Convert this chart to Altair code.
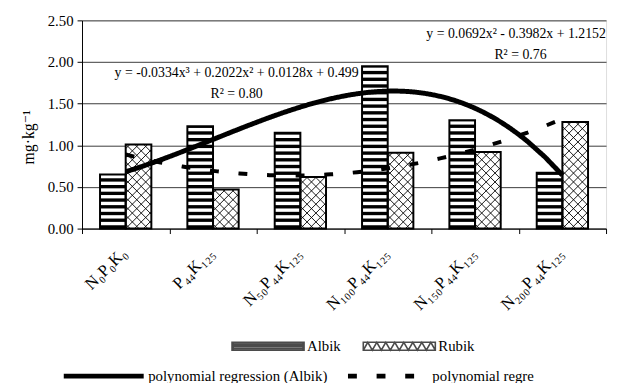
import altair as alt
import pandas as pd

# ---------------- data ----------------
categories = ["N₀P₀K₀", "P₄₄K₁₂₅", "N₅₀P₄₄K₁₂₅", "N₁₀₀P₄₄K₁₂₅", "N₁₅₀P₄₄K₁₂₅", "N₂₀₀P₄₄K₁₂₅"]
varieties = ["Albik", "Rubik"]
albik = [0.65, 1.23, 1.15, 1.95, 1.30, 0.67]
rubik = [1.01, 0.47, 0.62, 0.91, 0.92, 1.28]
y_ticks = [0.0, 0.5, 1.0, 1.5, 2.0, 2.5]
trend_names = ["polynomial regression (Albik)", "polynomial regre"]
eq_text = ["y = -0.0334x³ + 0.2022x² + 0.0128x + 0.499", "R² = 0.80",
           "y = 0.0692x² - 0.3982x + 1.2152", "R² = 0.76"]
eq_x = [2.27, 2.27, 5.47, 5.52]      # category index units
eq_y = [1.864, 1.615, 2.337, 2.088]  # mg·kg⁻¹ units

# ---------------- layout constants ----------------
PLOT_W, PLOT_H = 531, 211
Y_MAX = 2.5
N = len(categories)
BAND_PX = PLOT_W / N
PX_PER_VAL = PLOT_H / Y_MAX
BAR_PX = 26
PAD_OUTER = (BAND_PX / BAR_PX - 2) / 2
FONT = "Liberation Serif, Times New Roman, DejaVu Serif, serif"
STRIPE_STEP = 6.8 / PX_PER_VAL
STRIPE_W = 3.4 / PX_PER_VAL
HATCH = 9

rows = []
for i, c in enumerate(categories):
    rows.append(dict(category=c, variety="Albik", value=albik[i], idx=i + 1))
    rows.append(dict(category=c, variety="Rubik", value=rubik[i], idx=i + 1))
bars = pd.DataFrame(rows)
albik_df = bars[bars.variety == "Albik"]
rubik_df = bars[bars.variety == "Rubik"]
eq_df = pd.DataFrame(dict(t=eq_text, tx=eq_x, ty=eq_y))

xband_scale = alt.Scale(paddingInner=0, paddingOuter=0)
x_axis = alt.Axis(title=None, labelAngle=-45, labelAlign="right", labelBaseline="middle",
                  labelFont=FONT, labelColor="black", domainColor="black", tickColor="black",
                  tickBand="extent", tickSize=5, labelFontSize=17, labelPadding=17,
                  labelOffset=-2, grid=False)
X_AX = alt.X("category:N", sort=categories, scale=xband_scale, axis=x_axis)
X_NO = alt.X("category:N", sort=categories, scale=xband_scale, axis=None)
XOFF = alt.XOffset("variety:N", sort=varieties,
                   scale=alt.Scale(domain=varieties, paddingInner=0, paddingOuter=PAD_OUTER))

y_axis = alt.Axis(values=y_ticks, format=".2f", grid=True, gridColor="#3a3a3a", gridWidth=1,
                  labelFont=FONT, titleFont=FONT, labelColor="black", titleColor="black",
                  domainColor="black", tickColor="black",
                  tickSize=5, labelPadding=4, labelFontSize=15, titleFontSize=16,
                  titleFontWeight="normal", titlePadding=11, titleY=118)
y_scale = alt.Scale(domain=[0, Y_MAX], nice=False)


def Y(f):
    return alt.Y(f"{f}:Q", scale=y_scale, axis=y_axis, title="mg·kg⁻¹")


def QX(f):
    return alt.X(f"{f}:Q", scale=alt.Scale(domain=[0.5, N + 0.5], nice=False, zero=False), axis=None)


bg = alt.Chart(bars).mark_bar(fill="white").encode(x=X_AX, xOffset=XOFF, y=Y("value"))

stripes = (
    alt.Chart(albik_df)
    .transform_calculate(s=f"sequence(0, datum.value, {STRIPE_STEP})")
    .transform_flatten(["s"])
    .transform_calculate(s2=f"min(datum.s + {STRIPE_W}, datum.value)")
    .mark_bar(fill="black")
    .encode(x=X_NO, xOffset=XOFF, y=Y("s"), y2="s2:Q")
)

hatch1 = (
    alt.Chart(rubik_df)
    .transform_calculate(H=f"datum.value * {PX_PER_VAL}")
    .transform_calculate(c=f"sequence(-floor(datum.H / {HATCH}) * {HATCH}, {BAR_PX}, {HATCH})")
    .transform_flatten(["c"])
    .transform_calculate(p1="max(datum.c, 0)")
    .transform_calculate(p2=f"min({BAR_PX}, datum.H + datum.c)")
    .transform_filter("datum.p2 > datum.p1 + 1")
    .transform_calculate(x1=f"datum.idx + datum.p1 / {BAND_PX}")
    .transform_calculate(x2=f"datum.idx + datum.p2 / {BAND_PX}")
    .transform_calculate(y1=f"(datum.p1 - datum.c) / {PX_PER_VAL}")
    .transform_calculate(y2=f"(datum.p2 - datum.c) / {PX_PER_VAL}")
    .mark_rule(color="black", strokeWidth=0.9)
    .encode(x=QX("x1"), x2="x2:Q", y=Y("y1"), y2="y2:Q")
)

hatch2 = (
    alt.Chart(rubik_df)
    .transform_calculate(H=f"datum.value * {PX_PER_VAL}")
    .transform_calculate(d=f"sequence({HATCH / 2}, {BAR_PX} + datum.H, {HATCH})")
    .transform_flatten(["d"])
    .transform_calculate(p1="max(0, datum.d - datum.H)")
    .transform_calculate(p2=f"min({BAR_PX}, datum.d)")
    .transform_filter("datum.p2 > datum.p1 + 1")
    .transform_calculate(x1=f"datum.idx + datum.p1 / {BAND_PX}")
    .transform_calculate(x2=f"datum.idx + datum.p2 / {BAND_PX}")
    .transform_calculate(y1=f"(datum.d - datum.p1) / {PX_PER_VAL}")
    .transform_calculate(y2=f"(datum.d - datum.p2) / {PX_PER_VAL}")
    .mark_rule(color="black", strokeWidth=0.9)
    .encode(x=QX("x1"), x2="x2:Q", y=Y("y1"), y2="y2:Q")
)

outline = alt.Chart(bars).mark_bar(fill="transparent", stroke="black", strokeWidth=2).encode(
    x=X_NO, xOffset=XOFF, y=Y("value"))

legend_trend = alt.Legend(orient="none", legendX=-21, legendY=317.5, direction="horizontal",
                          title=None, symbolType="stroke", symbolSize=81 * 81, symbolStrokeWidth=5,
                          symbolStrokeColor="black", labelFont=FONT, labelFontSize=15,
                          labelColor="black", labelOffset=2, columnPadding=10, padding=0,
                          labelLimit=400)
dash = alt.StrokeDash("series:N", scale=alt.Scale(domain=trend_names, range=[[1, 0], [9, 20]]),
                      legend=legend_trend)

trend_a = (
    alt.Chart(albik_df)
    .transform_regression("idx", "value", method="poly", order=3, extent=[1, N])
    .transform_calculate(series=f"'{trend_names[0]}'")
    .mark_line(color="black", strokeWidth=5)
    .encode(x=QX("idx"), y=Y("value"), strokeDash=dash)
)
trend_r = (
    alt.Chart(rubik_df)
    .transform_regression("idx", "value", method="poly", order=2, extent=[1, N])
    .transform_calculate(series=f"'{trend_names[1]}'")
    .mark_line(color="black", strokeWidth=4)
    .encode(x=QX("idx"), y=Y("value"), strokeDash=dash)
)

eqs = alt.Chart(eq_df).mark_text(font=FONT, fontSize=14, color="black").encode(
    x=QX("tx"), y=Y("ty"), text="t:N")

albik_path = ("M-1,-0.11H1V-0.06H-1Z M-1,-0.015H1V0.015H-1Z M-1,0.06H1V0.11H-1Z "
              "M-1,-0.11H-0.97V0.11H-1Z M0.97,-0.11H1V0.11H0.97Z")
zig = "M-1,0.11" + "".join(
    f"L{-1 + 0.125 * (k + 1):.3f},{(-0.11 if k % 2 == 0 else 0.11)}" for k in range(16))
rubik_path = "M-1,-0.11H1V0.11H-1Z " + zig
legend_var = alt.Legend(orient="none", legendX=151, legendY=292.5, direction="horizontal",
                        title=None, symbolSize=73 * 73, symbolStrokeColor="black",
                        symbolStrokeWidth=1.6, labelFont=FONT, labelFontSize=15,
                        labelColor="black", labelOffset=2, columnPadding=18, padding=0)
legend_pts = (
    alt.Chart(bars)
    .transform_filter("datum.value < 0")
    .mark_point(filled=True, stroke="black", strokeWidth=1.6)
    .encode(
        shape=alt.Shape("variety:N", scale=alt.Scale(domain=varieties, range=[albik_path, rubik_path]),
                        legend=legend_var),
        fill=alt.Fill("variety:N", scale=alt.Scale(domain=varieties, range=["black", "white"]),
                      legend=legend_var),
        stroke=alt.Stroke("variety:N", scale=alt.Scale(domain=varieties, range=["black", "black"]),
                          legend=legend_var),
    )
)

chart = (
    alt.layer(bg, stripes, hatch1, hatch2, outline, trend_a, trend_r, eqs, legend_pts)
    .resolve_scale(x="independent")
    .properties(width=PLOT_W, height=PLOT_H,
                autosize=alt.AutoSizeParams(type="none"),
                padding={"left": 75, "top": 10, "right": 4, "bottom": 160})
    .configure_view(stroke="black", strokeWidth=1)
    .configure_axis(labelFont=FONT, titleFont=FONT, labelColor="black", titleColor="black",
                    domainColor="black", tickColor="black")
    .configure(background="white")
)

chart.save("out.html", embed_options={"renderer": "svg", "actions": False})
